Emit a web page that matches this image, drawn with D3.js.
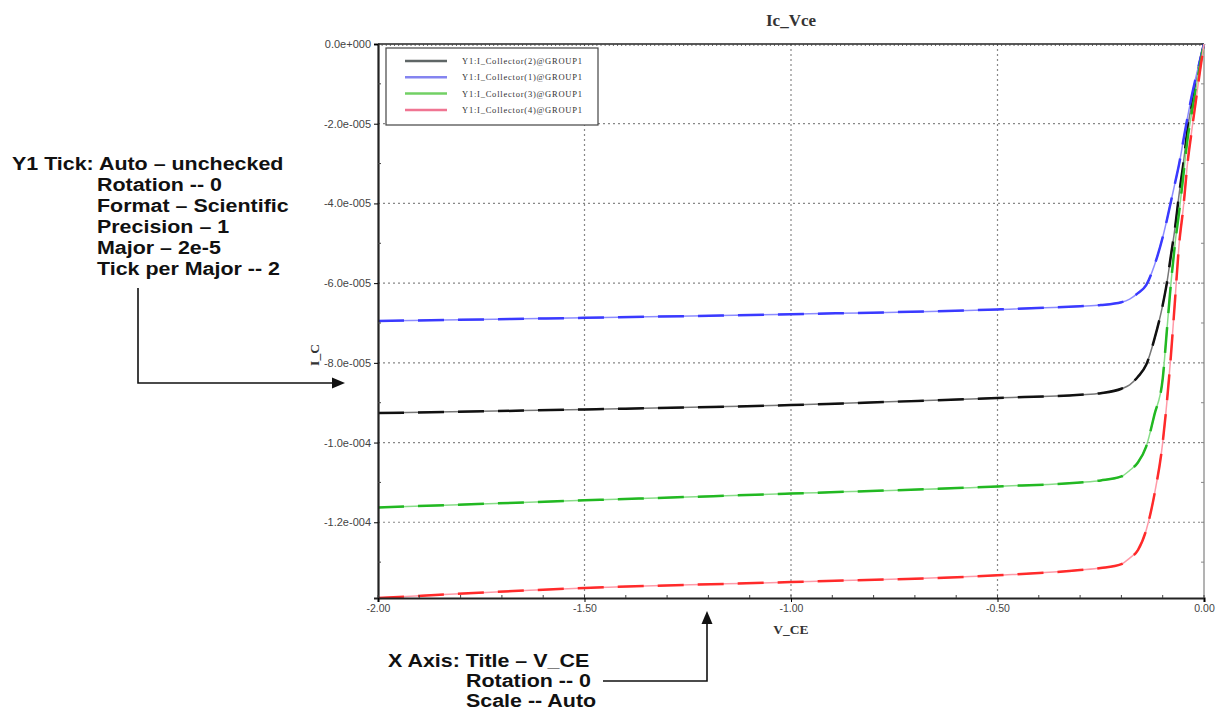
<!DOCTYPE html>
<html><head><meta charset="utf-8">
<script src="https://cdn.jsdelivr.net/npm/d3@7"></script>
<style>body{margin:0;background:#fff}svg{display:block}</style>
</head><body>
<svg id="c" width="1230" height="710"></svg>
<script>
// ---- data ----
const vce = [-2.0,-1.5,-1.0,-0.5,-0.3,-0.25,-0.2,-0.18,-0.16,-0.14,-0.12,-0.10,-0.09,-0.08,-0.07,-0.06,-0.05,-0.04,-0.03,-0.02,-0.01,0];
const ic2 = [-9.26,-9.17,-9.06,-8.88,-8.80,-8.76,-8.65,-8.55,-8.35,-8.05,-7.40,-6.55,-6.00,-5.30,-4.60,-3.75,-3.00,-2.15,-1.50,-0.95,-0.45,0].map(v=>v*1e-5);
const ic1 = [-6.95,-6.87,-6.78,-6.66,-6.58,-6.55,-6.48,-6.40,-6.25,-6.05,-5.55,-4.85,-4.42,-3.95,-3.48,-3.00,-2.42,-1.85,-1.32,-0.85,-0.42,0].map(v=>v*1e-5);
const ic3 = [-11.63,-11.45,-11.28,-11.10,-11.00,-10.95,-10.85,-10.70,-10.50,-10.10,-9.30,-8.40,-7.20,-6.00,-5.00,-4.20,-3.30,-2.40,-1.75,-1.15,-0.55,0].map(v=>v*1e-5);
const ic4 = [-13.90,-13.65,-13.50,-13.33,-13.20,-13.15,-13.05,-12.90,-12.70,-12.20,-11.30,-10.00,-9.00,-7.80,-6.40,-5.00,-4.10,-3.00,-2.20,-1.45,-0.70,0].map(v=>v*1e-5);
const seriesNames = ["Y1:I_Collector(2)@GROUP1","Y1:I_Collector(1)@GROUP1","Y1:I_Collector(3)@GROUP1","Y1:I_Collector(4)@GROUP1"];
const seriesValues = [ic2, ic1, ic3, ic4];
const xTicks = [-2.0,-1.5,-1.0,-0.5,0];
const xTickLabels = ["-2.00","-1.50","-1.00","-0.50","0.00"];
const yTicks = [0,-2e-5,-4e-5,-6e-5,-8e-5,-1e-4,-1.2e-4];
const yTickLabels = ["0.0e+000","-2.0e-005","-4.0e-005","-6.0e-005","-8.0e-005","-1.0e-004","-1.2e-004"];
const chartTitle = "Ic_Vce", xTitle = "V_CE", yTitle = "I_C";
const noteY = ["Y1 Tick: Auto \u2013 unchecked","Rotation -- 0","Format \u2013 Scientific","Precision \u2013 1","Major \u2013 2e-5","Tick per Major -- 2"];
const noteX = ["X Axis: Title \u2013 V_CE","Rotation -- 0","Scale -- Auto"];

// ---- styles ----
const lineColors = ["#111111","#3a3aff","#22b822","#ff2a2a"];
const baseColors = ["#777777","#8c8cff","#88dd88","#ff9aa8"];
const legendColors = ["#5f6666","#8484f0","#72d064","#f07592"];

const svg = d3.select("#c");
const L=378,R=1204,T=44,B=598;
const x = d3.scaleLinear().domain([-2,0]).range([L,R]);
const y = d3.scaleLinear().domain([-1.39e-4,0]).range([B,T]);

// grid
const g = svg.append("g");
g.selectAll(".hg").data(yTicks.slice(1)).join("line")
  .attr("x1",L).attr("x2",R).attr("y1",d=>y(d)).attr("y2",d=>y(d))
  .attr("stroke","#888").attr("stroke-width",1.2).attr("stroke-dasharray","2,3");
g.selectAll(".vg").data(xTicks.slice(1,-1)).join("line")
  .attr("y1",T).attr("y2",B).attr("x1",d=>x(d)).attr("x2",d=>x(d))
  .attr("stroke","#888").attr("stroke-width",1.2).attr("stroke-dasharray","2,3");

// right border (gray) with minor ticks
svg.append("line").attr("x1",R).attr("x2",R).attr("y1",T).attr("y2",B).attr("stroke","#9a9a9a").attr("stroke-width",1.5);
const yMinor = d3.range(0,14).map(i=>-i*1e-5);
svg.selectAll(".rt").data(yMinor).join("line")
  .attr("x1",R-3).attr("x2",R).attr("y1",d=>y(d)).attr("y2",d=>y(d)).attr("stroke","#888");

// top border with dense ticks
svg.append("line").attr("x1",L).attr("x2",R).attr("y1",T).attr("y2",T).attr("stroke","#222").attr("stroke-width",1.5);
svg.selectAll(".tt").data(d3.range(0,201).map(i=>-2+i*0.01)).join("line")
  .attr("x1",d=>x(d)).attr("x2",d=>x(d)).attr("y1",T).attr("y2",T+2).attr("stroke","#444").attr("stroke-width",0.8);

// series
const lineGen = d3.line().x((d,i)=>x(vce[i])).y(d=>y(d)).curve(d3.curveMonotoneX);
seriesValues.forEach((vals,k)=>{
  svg.append("path").attr("d",lineGen(vals)).attr("fill","none")
    .attr("stroke",baseColors[k]).attr("stroke-width",1.5);
  svg.append("path").attr("d",lineGen(vals)).attr("fill","none")
    .attr("stroke",lineColors[k]).attr("stroke-width",2.5).attr("stroke-dasharray","26,14");
});

// left axis
const yAxis = d3.axisLeft(y).tickValues(yTicks).tickFormat((d,i)=>yTickLabels[i]).tickSize(4).tickPadding(3);
const ya = svg.append("g").attr("transform",`translate(${L},0)`).call(yAxis);
ya.select(".domain").attr("stroke","#222").attr("stroke-width",2.2);
ya.selectAll("text").attr("font-family","Liberation Sans, Arial, sans-serif").attr("font-size",11).attr("fill","#444");
svg.selectAll(".ym").data(yMinor.filter((d,i)=>i%2===1)).join("line")
  .attr("x1",L).attr("x2",L+3).attr("y1",d=>y(d)).attr("y2",d=>y(d)).attr("stroke","#444");

// bottom axis
const xMinor = d3.range(0,21).map(i=>-2+i*0.1);
const xAxis = d3.axisBottom(x).tickValues(xTicks).tickFormat((d,i)=>xTickLabels[i]).tickSize(4).tickPadding(3);
const xa = svg.append("g").attr("transform",`translate(0,${B})`).call(xAxis);
xa.select(".domain").attr("stroke","#222").attr("stroke-width",2.2);
xa.selectAll("text").attr("font-family","Liberation Sans, Arial, sans-serif").attr("font-size",10.5).attr("fill","#444");
svg.selectAll(".xm").data(xMinor).join("line")
  .attr("x1",d=>x(d)).attr("x2",d=>x(d)).attr("y1",B-3).attr("y2",B).attr("stroke","#444");

// titles
const serif = "Liberation Serif, Times New Roman, serif";
svg.append("text").attr("x",(L+R)/2).attr("y",26).attr("text-anchor","middle")
  .attr("font-family",serif).attr("font-weight","bold").attr("font-size",17).attr("fill","#333").text(chartTitle);
svg.append("text").attr("x",(L+R)/2).attr("y",634).attr("text-anchor","middle")
  .attr("font-family",serif).attr("font-weight","bold").attr("font-size",13.5).attr("fill","#333").text(xTitle);
svg.append("text").attr("transform","translate(319,355) rotate(-90)").attr("text-anchor","middle")
  .attr("font-family",serif).attr("font-weight","bold").attr("font-size",13.5).attr("fill","#333").text(yTitle);

// legend
const lg = svg.append("g");
lg.append("rect").attr("x",386).attr("y",48).attr("width",212).attr("height",77)
  .attr("fill","#fff").attr("stroke","#444").attr("stroke-width",1.2);
seriesNames.forEach((n,k)=>{
  const yy = 61 + k*16.3;
  lg.append("line").attr("x1",405).attr("x2",447).attr("y1",yy).attr("y2",yy)
    .attr("stroke",legendColors[k]).attr("stroke-width",2.5);
  lg.append("text").attr("x",462).attr("y",yy+3).attr("font-family",serif)
    .attr("font-size",8.5).attr("fill","#333").attr("textLength",120).text(n);
});

// annotations (horizontally stretched bold sans)
const noteFont = "Liberation Sans, Arial, sans-serif";
function note(t,xx,yy){
  const el = svg.append("text").attr("x",xx).attr("y",yy).attr("font-family",noteFont)
    .attr("font-weight","bold").attr("font-size",18).attr("fill","#111").text(t);
  const w = el.node().getComputedTextLength();
  el.attr("textLength",w*1.19).attr("lengthAdjust","spacingAndGlyphs");
}
noteY.forEach((t,i)=>note(t,i===0?12:97,170+i*21));
noteX.forEach((t,i)=>note(t,i===0?388:466,667+i*20));
svg.append("path").attr("d","M138,288 L138,383 L334,383").attr("fill","none").attr("stroke","#111").attr("stroke-width",1.6);
svg.append("path").attr("d","M345,383 L332,377.5 L332,388.5 Z").attr("fill","#111");
svg.append("path").attr("d","M603,681 L707,681 L707,622").attr("fill","none").attr("stroke","#111").attr("stroke-width",1.6);
svg.append("path").attr("d","M707,611 L701.5,624 L712.5,624 Z").attr("fill","#111");
</script>
</body></html>
